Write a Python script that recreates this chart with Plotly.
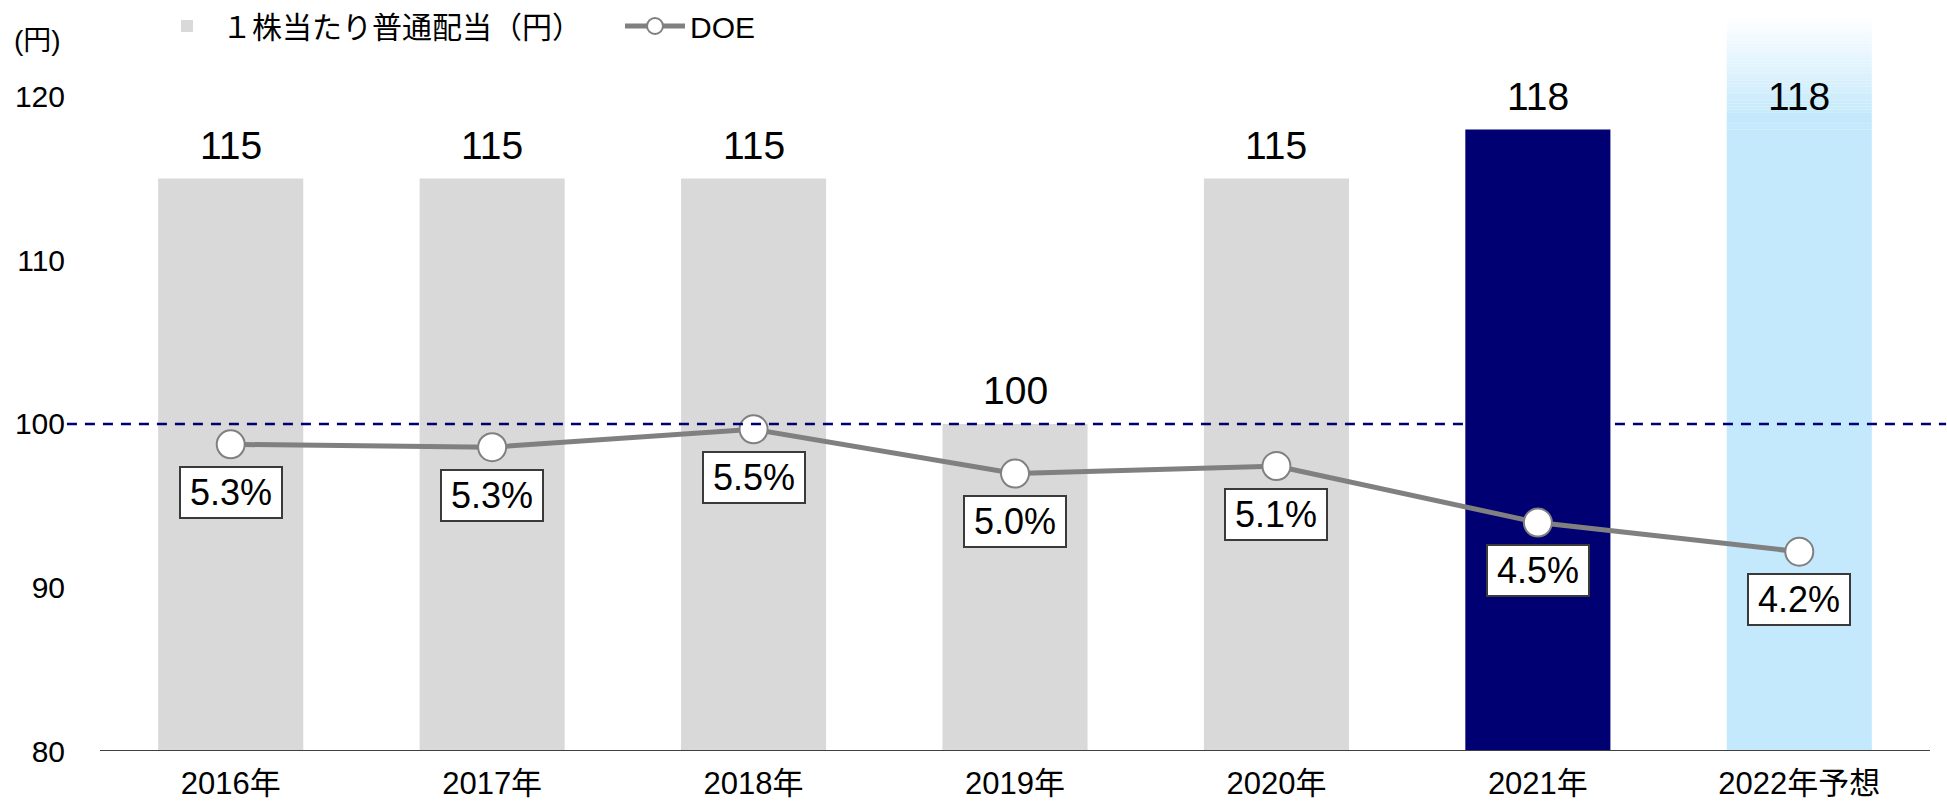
import plotly.graph_objects as go

# ---------------- data ----------------
years = ["2016年", "2017年", "2018年", "2019年", "2020年", "2021年", "2022年予想"]
dividend = [115, 115, 115, 100, 115, 118, 118]          # 1株当たり普通配当（円）
doe = [5.34, 5.31, 5.50, 5.03, 5.11, 4.51, 4.20]        # DOE (%)
doe_labels = ["5.3%", "5.3%", "5.5%", "5.0%", "5.1%", "4.5%", "4.2%"]
y_ticks = [80, 90, 100, 110, 120]
ref_value = 100
bar_legend = "１株当たり普通配当（円）"
line_legend = "DOE"
unit_label = "(円)"

# ---------------- style ----------------
FONT = "Liberation Sans, Arial, Noto Sans CJK JP, sans-serif"
GRAY_BAR = "#D9D9D9"
NAVY = "#000073"
AXIS_COLOR = "#404040"
LIGHT_BLUE = (196, 233, 252)
bar_colors = [GRAY_BAR] * 5 + [NAVY, "rgb(%d,%d,%d)" % LIGHT_BLUE]
FADE_TOP = 125.0
FADE_STEPS = 40
X_RANGE = [-0.5, 6.565]      # a little room right of the last category
AXIS_END = 0.9908            # paper x where the category axis line ends

fig = go.Figure()

fig.add_trace(go.Bar(
    x=years, y=[v - y_ticks[0] for v in dividend], base=y_ticks[0],
    marker=dict(color=bar_colors, line=dict(width=0)),
    name=bar_legend, showlegend=True, hoverinfo="skip",
))

# soft fade above the forecast bar
fc_cat = years[-1]
fc_val = dividend[-1]
h = (FADE_TOP - fc_val) / FADE_STEPS
fade_x, fade_base, fade_y, fade_col = [], [], [], []
for i in range(FADE_STEPS):
    t = (i + 0.5) / FADE_STEPS
    t = max(0.0, (t - 0.12) / 0.88)
    c = [int(round(LIGHT_BLUE[k] + (255 - LIGHT_BLUE[k]) * t)) for k in range(3)]
    fade_x.append(fc_cat)
    fade_base.append(fc_val + i * h)
    fade_y.append(h * 1.02)
    fade_col.append("rgb(%d,%d,%d)" % tuple(c))
fig.add_trace(go.Bar(
    x=fade_x, y=fade_y, base=fade_base,
    marker=dict(color=fade_col, line=dict(width=0)),
    showlegend=False, hoverinfo="skip",
))

fig.add_trace(go.Scatter(
    x=years, y=doe, yaxis="y2", mode="lines+markers", name=line_legend,
    line=dict(color="#808080", width=5),
    marker=dict(size=28, color="white", line=dict(color="#808080", width=2)),
    hoverinfo="skip",
))

annotations = []
for x, v in zip(years, dividend):
    annotations.append(dict(
        x=x, y=v, xref="x", yref="y", text=str(v), showarrow=False,
        yanchor="middle", yshift=33, font=dict(size=39, color="black", family=FONT),
    ))
for x, v, lab in zip(years, doe, doe_labels):
    annotations.append(dict(
        x=x, y=v, xref="x", yref="y2", text=lab, showarrow=False,
        yanchor="middle", yshift=-48, font=dict(size=36, color="black", family=FONT),
        bgcolor="white", bordercolor="#3A3A3A", borderwidth=2, borderpad=1,
        width=98, height=47,
    ))
annotations.append(dict(
    x=-0.0336, y=0.9647, xref="paper", yref="paper", text=unit_label, showarrow=False,
    xanchor="center", yanchor="middle", font=dict(size=28, color="black", family=FONT),
))

fig.update_layout(
    width=1947, height=804,
    margin=dict(l=100, r=0, t=15, b=53),
    paper_bgcolor="white", plot_bgcolor="white",
    barmode="overlay", bargap=0.445,
    font=dict(family=FONT, color="black"),
    showlegend=True,
    legend=dict(
        orientation="h", x=0.02815, xanchor="left", y=1.0204, yanchor="top",
        font=dict(size=30, family=FONT, color="black"),
        bgcolor="rgba(0,0,0,0)", traceorder="normal",
        itemwidth=60, entrywidth=393,
    ),
    xaxis=dict(
        type="category", range=X_RANGE, showline=False,
        showgrid=False, zeroline=False, ticks="", automargin=False,
        tickfont=dict(size=31, family=FONT, color="black"),
        ticklabelstandoff=11,
    ),
    yaxis=dict(
        range=[80, FADE_TOP], tickvals=y_ticks, showgrid=False, zeroline=False,
        showline=False, ticks="", automargin=False,
        tickfont=dict(size=30, family=FONT, color="black"),
        ticklabelstandoff=34,
    ),
    yaxis2=dict(
        overlaying="y", side="right", range=[2.085, 9.898], visible=False,
    ),
    shapes=[
        dict(
            type="line", xref="paper", yref="y", x0=0, x1=AXIS_END,
            y0=y_ticks[0], y1=y_ticks[0], layer="above",
            line=dict(color=AXIS_COLOR, width=2),
        ),
        dict(
            type="line", xref="paper", yref="y", x0=-0.0179, x1=0.9995,
            y0=ref_value, y1=ref_value, layer="above",
            line=dict(color=NAVY, width=2.5, dash="10px,8px"),
        ),
    ],
    annotations=annotations,
)

fig.write_html(
    "out.html",
    config={"displayModeBar": False},
    post_script="document.body.style.margin='0';document.body.style.overflow='hidden';",
)
